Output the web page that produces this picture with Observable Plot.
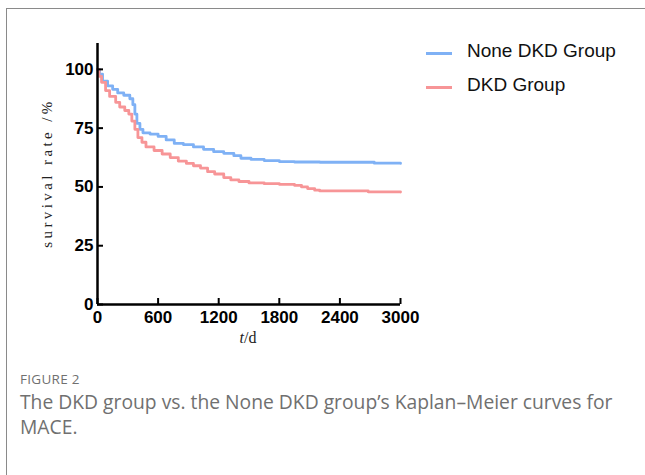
<!DOCTYPE html>
<html>
<head>
<meta charset="utf-8">
<script src="https://cdn.jsdelivr.net/npm/d3@7"></script>
<script src="https://cdn.jsdelivr.net/npm/@observablehq/plot@0.6"></script>
<style>
  html, body { margin: 0; padding: 0; background: #fff; }
  #wrap { position: relative; width: 645px; height: 475px; overflow: hidden; background: #fff; }
  #frame { position: absolute; left: 6px; top: 8px; right: -2px; bottom: -2px; border-left: 1.5px solid #8a8a8a; border-top: 1.5px solid #8a8a8a; }
  #chart { position: absolute; left: 0; top: 0; }
  .legend { position: absolute; left: 426px; font-family: "Liberation Sans", Arial, sans-serif; font-size: 19px; color: #111; }
  .legend .item { position: absolute; white-space: nowrap; }
  .legend .sw { position: absolute; width: 26px; height: 2.5px; }
  .legend .lab { position: absolute; left: 41px; }
  #ylab { position: absolute; left: 47px; top: 173px; transform: translate(-50%, -50%) rotate(-90deg); font-family: "Liberation Serif", serif; font-size: 15px; letter-spacing: 3.4px; white-space: nowrap; color: #222; }
  #xlab { position: absolute; left: 248px; top: 338px; transform: translate(-50%, -50%); font-family: "Liberation Serif", serif; font-size: 16px; white-space: nowrap; color: #222; }
  .cap { position: absolute; left: 20px; font-family: "Open Sans", sans-serif; color: #707070; white-space: nowrap; }
</style>
</head>
<body>
<div id="wrap">
  <div id="frame"></div>
  <div id="chart"></div>
  <div id="ylab">survival rate /%</div>
  <div id="xlab"><i>t</i>/d</div>
  <div class="legend" id="legend"></div>
  <div class="cap" style="top:370px;font-size:13.5px;letter-spacing:0.3px;">FIGURE 2</div>
  <div class="cap" style="top:388px;font-size:19.3px;">The DKD group vs. the None DKD group’s Kaplan–Meier curves for</div>
  <div class="cap" style="top:413px;font-size:19.3px;">MACE.</div>
</div>
<script>
const groups = ["None DKD Group", "DKD Group"];
const groupColors = ["#7fb1f5", "#f79597"];

const timesNone = [0, 20, 50, 100, 150, 200, 260, 320, 350, 370, 390, 420, 450, 520, 600, 680, 760, 850, 950, 1050, 1150, 1250, 1350, 1420, 1520, 1650, 1800, 1950, 2200, 2740, 3000];
const survNone  = [100, 98, 95, 93, 91.5, 90, 89, 87.5, 85, 81, 77, 74.5, 73, 72.5, 71.5, 70, 68.5, 68, 67, 66, 65, 64.3, 63.3, 62.2, 61.7, 61.2, 60.8, 60.6, 60.5, 60.1, 60.0];

const timesDKD = [0, 15, 40, 80, 120, 180, 220, 270, 310, 340, 370, 400, 440, 480, 560, 640, 720, 800, 880, 950, 1020, 1090, 1160, 1250, 1320, 1400, 1500, 1650, 1800, 1950, 2020, 2080, 2150, 2200, 2680, 3000];
const survDKD  = [100, 97, 94.5, 91, 88.5, 86, 84, 82.5, 81, 78, 74.5, 71, 69, 67, 65.5, 64, 62.5, 61, 60, 59, 58, 56.5, 55.5, 54, 53, 52.3, 51.7, 51.4, 51.1, 50.7, 50, 49.3, 48.6, 48.3, 47.9, 47.8];

const xTicks = [0, 600, 1200, 1800, 2400, 3000];
const yTicks = [0, 25, 50, 75, 100];

const data = [
  ...timesNone.map((t, i) => ({group: groups[0], t, s: survNone[i]})),
  ...timesDKD.map((t, i) => ({group: groups[1], t, s: survDKD[i]}))
];

const fmt = d => String(d);

const chart = Plot.plot({
  width: 645,
  height: 360,
  marginLeft: 97,
  marginRight: 245,
  marginTop: 43,
  marginBottom: 56,
  style: {fontFamily: "Liberation Sans, Arial, sans-serif", fontSize: "17px", fontWeight: "bold", color: "#000", background: "transparent"},
  x: {domain: [0, 3000]},
  y: {domain: [0, 111]},
  color: {domain: groups, range: groupColors},
  marks: [
    Plot.line(data, {x: "t", y: "s", z: "group", stroke: "group", curve: "step-after", strokeWidth: 2.8}),
    Plot.axisX(xTicks, {tickSize: -6, tickPadding: 12, strokeWidth: 2, label: null, tickFormat: fmt, fontSize: 17, fontWeight: "bold", fill: "#000"}),
    Plot.axisY(yTicks, {tickSize: -6, tickPadding: 10, strokeWidth: 2, label: null, tickFormat: fmt, fontSize: 17, fontWeight: "bold", fill: "#000"}),
    Plot.ruleY([0], {stroke: "#000", strokeWidth: 2.5}),
    Plot.ruleX([0], {stroke: "#000", strokeWidth: 2.5})
  ]
});
document.getElementById("chart").appendChild(chart);

const legend = document.getElementById("legend");
const legendTops = [53, 87];
groups.forEach((g, i) => {
  const item = document.createElement("div");
  item.className = "item";
  item.style.top = legendTops[i] + "px";
  item.innerHTML = `<div class="sw" style="background:${groupColors[i]};top:-1px;left:0"></div><div class="lab" style="top:-13px">${g}</div>`;
  legend.appendChild(item);
});
</script>
</body>
</html>
